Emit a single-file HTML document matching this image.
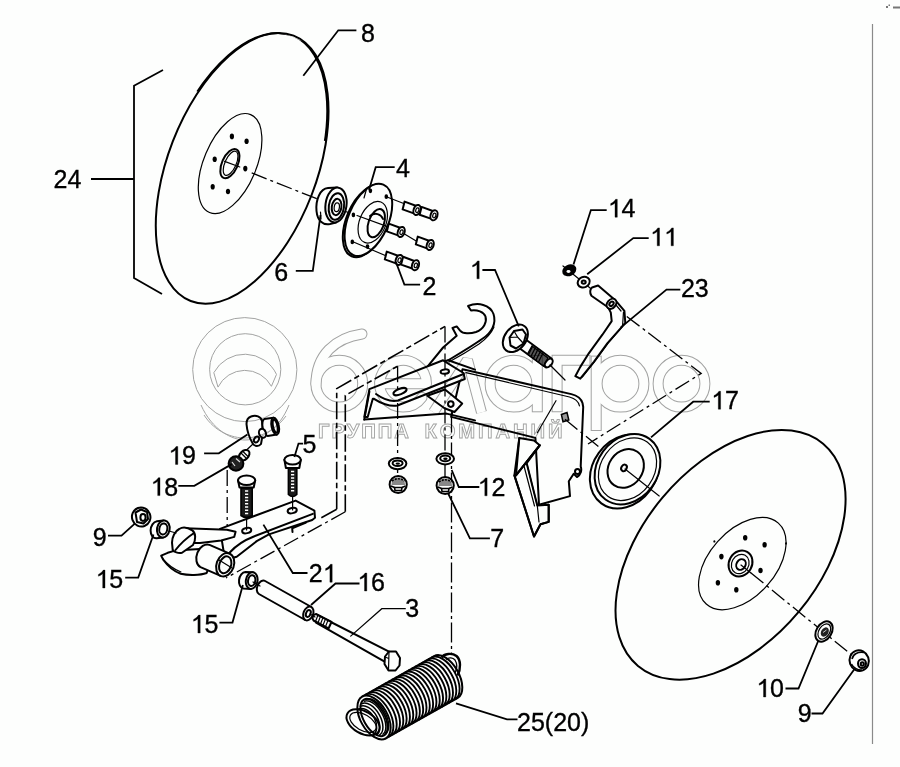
<!DOCTYPE html>
<html><head><meta charset="utf-8"><style>
html,body{margin:0;padding:0;background:#fdfefd;}
svg{display:block;}
text{font-family:"Liberation Sans",sans-serif;}
.k{fill:none;stroke:#000;stroke-width:2;stroke-linejoin:round;stroke-linecap:round}
.kw{fill:#fdfefd;stroke:#000;stroke-width:2;stroke-linejoin:round}
.t{fill:none;stroke:#000;stroke-width:1.2;stroke-linecap:round}
.ld{fill:none;stroke:#000;stroke-width:1.8;stroke-linejoin:miter}
.dd{fill:none;stroke:#000;stroke-width:1.3;stroke-dasharray:16 4 3 4}
.ph{fill:none;stroke:#000;stroke-width:1.6;stroke-dasharray:17.5 3.5 5.5 3.5}
.f{fill:#000}
.wm{fill:none;stroke:#a8a8a8;stroke-width:1}
.lb{font-size:25px;fill:#000;stroke:#000;stroke-width:0.35}
</style></head><body>
<svg width="900" height="767" viewBox="0 0 900 767">
<!-- WATERMARK -->
<g id="wm">
</g>

<!-- DISK 8 -->
<g id="disk8">
  <ellipse class="k" cx="242.15" cy="168.35" rx="142.3" ry="74.4" transform="rotate(111.2 242.15 168.35)" stroke-width="2.4"/>
  <clipPath id="c8"><rect x="100" y="60" width="85" height="230"/></clipPath>
  <ellipse class="k" cx="240.9" cy="168.35" rx="142.3" ry="74.4" transform="rotate(111.2 240.9 168.35)" stroke-width="1.6" clip-path="url(#c8)"/>
  <ellipse class="t" cx="230.1" cy="163.6" rx="53.1" ry="26.3" transform="rotate(112.8 230.1 163.6)" stroke-width="1.4"/>
  <ellipse class="k" cx="229.9" cy="163.65" rx="15.65" ry="7.86" transform="rotate(114 229.9 163.65)" stroke-width="2.4"/>
  <ellipse class="t" cx="230.6" cy="163.3" rx="13" ry="5.6" transform="rotate(114 230.6 163.3)" stroke-width="1"/>
  <g class="f">
    <ellipse cx="231.9" cy="136.4" rx="2.1" ry="2.8"/>
    <ellipse cx="246.6" cy="141.2" rx="2.1" ry="2.8"/>
    <ellipse cx="214.7" cy="159.3" rx="2.1" ry="2.8"/>
    <ellipse cx="245.3" cy="168.6" rx="2.1" ry="2.8"/>
    <ellipse cx="212.7" cy="186.8" rx="2.1" ry="2.8"/>
    <ellipse cx="228" cy="191.5" rx="2.1" ry="2.8"/>
  </g>
  <path class="t" d="M224.6 161.4 L239.8 167"/>
  <path class="dd" d="M251.7 172.9 L320 200"/>
</g>

<!-- BEARING 6 -->
<g id="bearing">
  <path class="kw" d="M328 188 C320 188.5 315.5 200 316.5 211 C317.5 221 323 225.5 330 224 L336 222.5 L337 187.5 Z" stroke-width="2.4"/>
  <ellipse class="kw" cx="336" cy="205" rx="10.5" ry="17.5" transform="rotate(8 336 205)" stroke-width="2.8"/>
  <ellipse class="k" cx="336.4" cy="206.5" rx="7.6" ry="13.4" transform="rotate(8 336.4 206.5)" stroke-width="3"/>
  <ellipse class="k" cx="336.6" cy="207" rx="4.8" ry="8.2" transform="rotate(8 336.6 207)" stroke-width="1.5"/>
  <ellipse class="t" cx="336.8" cy="207.3" rx="2.6" ry="4.4" transform="rotate(8 336.8 207.3)"/>
  <path class="t" d="M320.5 212 L321 219"/>
  <path class="t" d="M345.5 211.5 L357 215.5"/>
</g>
<!-- FLANGE 4 -->
<g id="flange">
  <ellipse class="kw" cx="366.6" cy="221" rx="38.3" ry="20.1" transform="rotate(113 366.6 221)"/>
  <ellipse class="kw" cx="368.4" cy="219.9" rx="38.3" ry="20.1" transform="rotate(113 368.4 219.9)"/>
  <ellipse class="t" cx="372.75" cy="222.2" rx="21.8" ry="13.2" transform="rotate(112 372.75 222.2)"/>
  <ellipse class="k" cx="376.25" cy="223.1" rx="14.7" ry="7.7" transform="rotate(109.5 376.25 223.1)" stroke-width="2.6"/>
  <path class="k" d="M370 216 C375 212 381 214 383 219" stroke-width="1.4"/>
  <path class="t" d="M357 215.5 L387.5 226.6"/>
  <g class="f">
    <ellipse cx="370.4" cy="190.8" rx="1.8" ry="2.4"/>
    <ellipse cx="386.3" cy="196.7" rx="1.8" ry="2.4"/>
    <ellipse cx="353.4" cy="214.9" rx="1.8" ry="2.4"/>
    <ellipse cx="352.3" cy="241.9" rx="1.8" ry="2.4"/>
    <ellipse cx="367.5" cy="246.6" rx="1.8" ry="2.4"/>
  </g>
  <path class="t" d="M366.5 189 L364 198"/>
</g>
<!-- BOLTS 2 -->
<g id="bolts2">
  <path class="t" d="M387 197 L405 204"/>
  <path class="t" d="M388 227 L392 228.5"/>
  <path class="t" d="M402 232.5 L417 241.5"/>
  <path class="t" d="M353.5 242 L386.5 256"/>
  <path class="t" d="M417 211 L423 212"/>
  <path class="t" d="M400 260.5 L405 262"/>
  <g id="bA">
    <path class="kw" d="M404.6 201.6 L416.5 206 L414.5 213.6 L402.6 209.4 Z"/>
    <ellipse class="kw" cx="417" cy="210" rx="3.4" ry="5.2" transform="rotate(18 417 210)"/>
    <ellipse class="t" cx="417.3" cy="210.2" rx="1.5" ry="2.4" transform="rotate(18 417.3 210.2)"/>
  </g>
  <use href="#bA" transform="translate(17 5.3)"/>
  <use href="#bA" transform="translate(-15.8 22)"/>
  <use href="#bA" transform="translate(13.2 35)"/>
  <use href="#bA" transform="translate(-17.8 50)"/>
  <use href="#bA" transform="translate(-1.5 55.2)"/>
</g>

<!-- CENTRAL BRACKET -->
<g id="central">
  <!-- hook plate -->
  <path class="kw" stroke-width="2.6" d="M427.9 366.2 L443.1 347.5 L456.7 335.7 L452.5 328 L456.7 326.4 L460.1 330.6 C463 334 470 334 476 332 C484 329 487 322 485.5 316.5 C484 312 477 309.5 471 310.5 L468 306 C478 302 490 304.5 493.5 314 C496.5 323 492 333 482 339 C475 344 462 352 452 358 L448.2 360.3 Z"/>
  <path class="t" d="M449 362 C460 356 470 350 479 344 C486 339 491 334 494 327"/>
  <!-- side plate -->
  <path class="kw" d="M462.5 369.2 L571.3 394.1 C577 395.5 581 398 582.5 403 L583.2 407 L580.7 466.4 C582 470 581 475 577 477 L573.7 473.8 L568.8 481.3 L570 496.1 L539 504.8 L535.4 437.9 L451.1 416.9 Z"/>
  <path class="t" d="M466 372.6 L569.5 397 C575 398.5 578.5 401 579.5 406"/>
  <path class="t" d="M556 400.7 L537.3 432.7"/>
  <path d="M561.4 414.5 L567 412.5 L568.8 420 L563 421.8 Z" fill="#999" stroke="#000" stroke-width="1.5"/>
  <ellipse class="k" cx="577.5" cy="471.4" rx="2.5" ry="2.5" stroke-width="1.5"/>
  <!-- shin -->
  <path class="kw" d="M519.3 437.9 L534 440.4 L539.7 445.3 L516 475.4 Z"/>
  <path class="kw" d="M514.4 475.4 L516 475.4 L539.7 445.3 L526.7 463.2 L537.3 505.6 L548.7 504.7 L548.7 521.9 L540.5 524.3 L534 536.5 Z"/>
  <path class="k" d="M519.3 437.9 L514.4 475.4 L534 536.5 L540.5 524.3 L548.7 521.9 L548.7 504.7"/>
  <path class="k" d="M516 475.4 L539.7 445.3"/>
  <path class="t" d="M526.7 463.2 L537.3 505.6 L539 522"/>
  <path class="t" d="M524 466 L534.5 506"/>
  <!-- tab under top plate -->
  <path class="kw" d="M427.3 395.8 L445 389.5 L462.2 403.6 L454.5 412 L444.5 408.3 Z" stroke-width="2"/>
  <ellipse class="k" cx="450.8" cy="404.1" rx="2.8" ry="2.8" stroke-width="2.2"/>
  <!-- top plate + left flange -->
  <path class="kw" d="M369.4 389.1 L443.1 360.3 L463.5 373 L464.8 379 L397.4 405.5 C390 407 380 403 373.6 398.7 L372.8 398.7 L367.7 417 L364.3 417 Z"/>
  <path class="k" d="M364.3 419.6 L446.5 413.6 L475 420.4"/>
  <path class="k" d="M369.4 391.6 L364.3 419.6"/>
  <path class="k" d="M463.5 374 L398 400.5 C391 402 383 399 376 394" stroke-width="1.4"/>
  <path class="k" d="M448.2 360.3 L475 369.6"/>
  <ellipse class="k" cx="400" cy="391.6" rx="7" ry="2.8" transform="rotate(-22 400 391.6)" stroke-width="1.8"/>
  <ellipse class="k" cx="444.8" cy="371.6" rx="4.2" ry="2.2" transform="rotate(-5 444.8 371.6)" stroke-width="1.6"/>
  <!-- phantom dashed lines (on top) -->
  <path class="ph" d="M336.7 509.3 L336.7 388.6 L445 326.4"/>
  <path class="ph" d="M345.3 511.8 L345.3 395.4 L397.6 366.2"/>
  <path class="dd" d="M451.5 412.5 L451.5 655" style="stroke-dasharray:20 3.5 3 3.5"/>
  <path class="dd" d="M397.6 366.2 L397.6 389 M397.6 403 L397.6 492"/>
  <path class="dd" d="M445 326.4 L445 494"/>
  <!-- washers / nuts under -->
  <g id="wsh">
    <ellipse class="kw" cx="397.6" cy="463.6" rx="8.8" ry="5.6" stroke-width="3"/>
    <ellipse class="k" cx="397.6" cy="463.2" rx="5" ry="2.8" stroke-width="1.2"/>
    <ellipse class="f" cx="397.8" cy="463.6" rx="2.2" ry="1.2"/>
  </g>
  <use href="#wsh" transform="translate(47.6 -4.8)"/>
  <g id="nut">
    <ellipse class="kw" cx="398.2" cy="484.5" rx="8.6" ry="8.4" stroke-width="3.2"/>
    <path d="M391.5 485 C391.5 479 395 477.5 398.2 477.5 C401.5 477.5 405 479 405 485 Z" fill="#888"/>
    <path d="M392 481 Q398 476.5 404.5 481" fill="none" stroke="#000" stroke-width="1.6" stroke-dasharray="2 1.2"/>
    <path d="M394.5 487.5 L402 487.5 L401.5 490.5 L395 490.5 Z" fill="#fdfefd" stroke="#000" stroke-width="1.6"/>
    <path d="M391 486 L394.5 487.5 M405.5 486 L402 487.5" fill="none" stroke="#000" stroke-width="1.4"/>
  </g>
  <use href="#nut" transform="translate(47 1)"/>
  <!-- bolt 1 -->
  <path class="kw" d="M521 336 L551.5 358.5 L546 367.5 L515 345 Z"/>
  <path d="M532 346 L548 358 L543.5 366 L527.5 354 Z" fill="#555" stroke="#000" stroke-width="1.4"/>
  <path d="M533 345.5 L528.5 354.5 M535.5 347.5 L531 356.3 M538 349.3 L533.5 358.2 M540.5 351.2 L536 360 M543 353 L538.5 362" stroke="#000" stroke-width="1.3"/>
  <ellipse class="kw" cx="548.8" cy="363" rx="3" ry="5" transform="rotate(40 548.8 363)" stroke-width="2"/>
  <ellipse class="kw" cx="515.35" cy="338.3" rx="15.2" ry="10.7" transform="rotate(127.5 515.35 338.3)" stroke-width="2.4"/>
  <path class="kw" d="M509.5 337.5 L514 331 L522.5 329.5 L526 334.5 L523.5 343.5 L516 348.5 L510.5 345.5 Z" stroke-width="1.8"/>
  <path class="t" d="M514 331 L517.5 337 L509.5 337.5 M517.5 337 L523.5 343.5"/>
  <path class="t" d="M550 365 L565 380"/>
</g>

<!-- ARM 23 + WASHERS -->
<g id="arm23">
  <path class="t" d="M563 266 L595 292"/>
  <ellipse class="f" cx="569.3" cy="270.3" rx="7.4" ry="5.6" transform="rotate(-25 569.3 270.3)"/>
  <ellipse fill="#fdfefd" cx="568.5" cy="271.5" rx="2" ry="1.4"/>
  <ellipse class="kw" cx="583.7" cy="282.1" rx="6.2" ry="5.2" transform="rotate(-25 583.7 282.1)" stroke-width="2.6"/>
  <ellipse class="k" cx="583.7" cy="282.1" rx="2" ry="1.6" stroke-width="1.3"/>
  <path class="kw" d="M608.3 307.5 L610.8 312.6 L611.7 321.1 L602.4 334.7 L588.8 353.3 L580.3 366.9 L575.3 376.2 L580.3 378.7 L593.9 361.8 L607.5 343.1 L621 327.9 L625.3 322.8 L624.4 310.9 L615.9 300.8 Z"/>
  <path class="t" d="M582.5 377 L595.5 360.5 L609 342 L622.5 326.5 L623.5 312"/>
  <path class="kw" d="M598.1 285.5 L615.9 300.8 L608.3 307.5 L591.4 295.7 C589.5 293 590 289 592 287.5 Z"/>
  <ellipse class="kw" cx="611.5" cy="303.8" rx="4.2" ry="5.6" transform="rotate(40 611.5 303.8)"/>
  <ellipse class="k" cx="611.5" cy="303.8" rx="1.8" ry="2.5" transform="rotate(40 611.5 303.8)" stroke-width="1.2"/>
  <path class="t" d="M616 305 L621 311"/>
</g>
<!-- dash-dot lines right side -->
<path class="dd" d="M626.8 316.4 L701.2 373.4 L588 444"/>
<path class="dd" d="M565 419.3 L601.7 449.1"/>
<!-- PULLEY 17 -->
<g id="pulley">
  <ellipse class="kw" cx="624.5" cy="471.5" rx="39.4" ry="31.8" transform="rotate(126 624.5 471.5)"/>
  <ellipse class="kw" cx="627.5" cy="469.2" rx="37.5" ry="30.2" transform="rotate(126 627.5 469.2)"/>
  <ellipse class="t" cx="627.5" cy="469.2" rx="33.5" ry="26.5" transform="rotate(126 627.5 469.2)"/>
  <ellipse class="k" cx="625.7" cy="468.45" rx="20.4" ry="17" transform="rotate(125 625.7 468.45)" stroke-width="2.6"/>
  <ellipse class="k" cx="624" cy="467.9" rx="2.6" ry="3.4" transform="rotate(30 624 467.9)" stroke-width="1.6"/>
  <path class="t" d="M625 469 L659.2 496"/>
</g>

<!-- SPRING 25 -->
<g id="spring">
  <g transform="translate(374 717.5) rotate(-29.4)">
    <path class="kw" d="M0 -24 L82.6 -24 A13 24 0 0 1 82.6 24 L0 24 Z" stroke-width="2.4"/>
    <path d="M3.5 -24 A13 24 0 0 1 3.5 24 M7.3 -24 A13 24 0 0 1 7.3 24 M11.1 -24 A13 24 0 0 1 11.1 24 M14.9 -24 A13 24 0 0 1 14.9 24 M18.7 -24 A13 24 0 0 1 18.7 24 M22.5 -24 A13 24 0 0 1 22.5 24 M26.3 -24 A13 24 0 0 1 26.3 24 M30.1 -24 A13 24 0 0 1 30.1 24 M33.9 -24 A13 24 0 0 1 33.9 24 M37.7 -24 A13 24 0 0 1 37.7 24 M41.5 -24 A13 24 0 0 1 41.5 24 M45.3 -24 A13 24 0 0 1 45.3 24 M49.1 -24 A13 24 0 0 1 49.1 24 M52.9 -24 A13 24 0 0 1 52.9 24 M56.7 -24 A13 24 0 0 1 56.7 24 M60.5 -24 A13 24 0 0 1 60.5 24 M64.3 -24 A13 24 0 0 1 64.3 24 M68.1 -24 A13 24 0 0 1 68.1 24 M71.9 -24 A13 24 0 0 1 71.9 24 M75.7 -24 A13 24 0 0 1 75.7 24 M79.5 -24 A13 24 0 0 1 79.5 24" fill="none" stroke="#000" stroke-width="1.9"/>
    <ellipse class="kw" cx="0" cy="0" rx="13.5" ry="24" stroke-width="2.6"/>
    <path d="M-10.0 -15.0 A10 15.0 0 0 1 -10.0 15.0 M-7.0 -16.5 A10 16.5 0 0 1 -7.0 16.5 M-4.0 -18.0 A10 18.0 0 0 1 -4.0 18.0 M-1.0 -19.0 A10 19.0 0 0 1 -1.0 19.0 M2.0 -19.5 A10 19.5 0 0 1 2.0 19.5" fill="none" stroke="#000" stroke-width="1.5"/>
    <ellipse class="k" cx="0" cy="0" rx="10.5" ry="20.5" stroke-width="1.6"/>
  </g>
  <path d="M441.5 657.5 C444 653.5 452 652.5 456.5 656 C461 660 461 669 457.5 675.5" fill="none" stroke="#000" stroke-width="2.4"/>
  <path d="M446 659.5 C449 657 453 657.5 455 660 C457.5 664 457 669 455 673" fill="none" stroke="#000" stroke-width="1.3"/>
  <ellipse class="k" cx="363" cy="722.4" rx="18" ry="11" transform="rotate(30 363 722.4)" stroke-width="2.4"/>
  <ellipse class="t" cx="363" cy="722.4" rx="14.5" ry="8" transform="rotate(30 363 722.4)"/>
</g>
<!-- BOLT 3 + TUBE 16 -->
<g id="bolt3">
  <path class="kw" d="M318 615.5 L389.5 651.8 L386.8 662.8 L316 622.6 Z" stroke-width="1.6"/>
  <path class="kw" d="M316 614 L331.5 622 L328.5 628.5 L313.5 620.5 C311.5 618 313 614.5 316 614 Z"/>
  <path class="t" d="M318 615 L315.5 621.5 M320.5 616.3 L318 622.8 M323 617.6 L320.5 624 M325.5 618.9 L323 625.3 M328 620.2 L325.5 626.6"/>
  <path class="kw" d="M385 656.5 L389 651.5 L396 651.5 L400 658 L399.5 665.5 L395.5 670.5 L388.5 670.5 L384.5 664 Z"/>
  <path class="t" d="M389 651.8 L388.5 670 M385 657 L388.8 658.5"/>
  <!-- tube 16 -->
<path class="kw" stroke-width="2.2" d="M258.9 594.0 L305.2 620.0 L311.4 607.0 L265.1 581.0 A4.8 7.2 22 0 0 258.9 594.0 Z"/>
<ellipse class="kw" stroke-width="2.2" cx="308.3" cy="613.5" rx="4.8" ry="7.2" transform="rotate(22 308.3 613.5)"/>
<ellipse class="k" stroke-width="2.4" cx="308.3" cy="613.5" rx="2.2" ry="3.6" transform="rotate(22 308.3 613.5)"/>
  <path class="t" d="M310 614 L315 617"/>
</g>
<!-- LINKAGE 21 -->
<g id="linkage">
  <!-- dash-dot vertical for 18/19 -->
  <path class="dd" d="M227.2 470 L227.2 548"/>
  <!-- phantom continuation -->
  <path class="ph" d="M336.7 509.3 L318.4 519.3"/>
  <path class="dd" d="M345.3 511.8 L226 578"/>
  <!-- arm -->
  <path class="kw" d="M220 528.9 L295.6 500.6 L314.4 510.6 L315 517.8 L312.2 520 L268.9 534.4 L256.7 541.1 L236.7 556.7 L225 560 Z"/>
  <path class="k" d="M312.8 513.9 L253.3 536.7 C246 539.5 238 543.5 230 552.2"/>
  <path class="k" d="M292.2 528.3 L306 522.5 M292.2 528.3 L292.5 532"/>
  <ellipse class="k" cx="246.7" cy="530.6" rx="4.6" ry="2.6" transform="rotate(-12 246.7 530.6)" stroke-width="1.6"/>
  <ellipse class="k" cx="292.2" cy="510.6" rx="4.6" ry="2.6" transform="rotate(-12 292.2 510.6)" stroke-width="1.6"/>
  <!-- ear -->
  <path class="kw" d="M185 528.2 L226.9 529.7 L235.6 531.8 L234.2 536.9 L221.2 540.5 L200 543 L190 543 Z"/>
  <path class="kw" d="M161.2 555.7 L167.7 552.8 L174.9 550.6 L200 549 L212 558 L206.7 573 C200 575.5 188 575.5 180.7 573.8 C173 571 167 565 163.4 560 Z"/>
  <path class="t" d="M162.5 558.5 C167 564 173 569 181 572"/>
  <path class="kw" d="M172 542.7 C172 537 175 531 179.2 529 C182 527.2 187 527 192.3 530.4 C196 533 196 540 193 545 L182 552.8 C178 553.5 174 552 172.7 549.9 Z"/>
  <path class="k" d="M175.5 550 C181 543 188 537 194 533" stroke-width="1.6"/>
  <!-- pivot tube -->
<path class="kw" stroke-width="2.2" d="M200.5 567.1 L220.7 575.9 L229.7 553.7 L209.5 544.9 A8.7 12 20 0 0 200.5 567.1 Z"/>
<ellipse class="kw" stroke-width="2.2" cx="225.2" cy="564.8" rx="8.7" ry="12" transform="rotate(20 225.2 564.8)"/>
<ellipse class="k" stroke-width="2.0" cx="225.2" cy="564.8" rx="5.8" ry="8.7" transform="rotate(20 225.2 564.8)"/>
  <path class="t" d="M219 560 L232 568"/>
  <!-- nut 9 left -->
  <ellipse class="kw" cx="141.2" cy="517" rx="9.2" ry="9.6" transform="rotate(-20 141.2 517)" stroke-width="3"/>
  <path class="k" d="M135.5 512.5 L141 509.5 L147 512 L148 519 L143.5 523.5 L137 522 Z" stroke-width="1.5"/>
  <ellipse class="k" cx="143" cy="517.5" rx="2.6" ry="3.4" stroke-width="1.8"/>
  <!-- bushing 15 left -->
<path class="kw" stroke-width="2.4" d="M156.7 538.3 L163.2 537.5 L163.4 520.5 L156.9 521.3 A6.3 8.6 10 0 0 156.7 538.3 Z"/>
<ellipse class="kw" stroke-width="2.4" cx="163.3" cy="529.0" rx="6.3" ry="8.6" transform="rotate(10 163.3 529.0)"/>
<ellipse class="k" stroke-width="2.6" cx="163.3" cy="529.0" rx="4" ry="5.6" transform="rotate(10 163.3 529.0)"/>
  <path class="t" d="M169 531 L176 533"/>
  <!-- bushing 15 right -->
<path class="kw" stroke-width="2.4" d="M243.4 588.5 L250.7 588.9 L252.7 572.3 L245.4 571.9 A5.8 8.4 10 0 0 243.4 588.5 Z"/>
<ellipse class="kw" stroke-width="2.4" cx="251.7" cy="580.6" rx="5.8" ry="8.4" transform="rotate(10 251.7 580.6)"/>
<ellipse class="k" stroke-width="2.6" cx="251.7" cy="580.6" rx="3.6" ry="5.4" transform="rotate(10 251.7 580.6)"/>
  <path class="t" d="M253 582 L260 586"/>
  <!-- bolts 5 -->
  <path d="M288.4 468.5 L296.8 468.5 L296.8 494.5 Q292.6 498.5 288.4 494.5 Z" fill="#1a1a1a" stroke="#000" stroke-width="1.6"/>
  <path d="M291.0 471.5 h3.2 M291.0 474.7 h3.2 M291.0 477.9 h3.2 M291.0 481.1 h3.2 M291.0 484.3 h3.2 M291.0 487.5 h3.2 M291.0 490.7 h3.2" stroke="#fff" stroke-width="1.5" fill="none"/>
  <path class="kw" d="M284.4 459.8 L285.9 468.0 L299.3 468.0 L300.8 459.8 Z" stroke-width="2"/>
  <ellipse class="kw" cx="292.6" cy="459.8" rx="8.2" ry="4.8" stroke-width="2.3"/>
  <path d="M241.0 488 L252.2 488 L252.2 515.5 Q246.6 519.5 241.0 515.5 Z" fill="#1a1a1a" stroke="#000" stroke-width="1.6"/>
  <path d="M245.0 491.0 h3.2 M245.0 494.2 h3.2 M245.0 497.4 h3.2 M245.0 500.6 h3.2 M245.0 503.8 h3.2 M245.0 507.0 h3.2 M245.0 510.2 h3.2 M245.0 513.4 h3.2" stroke="#fff" stroke-width="1.5" fill="none"/>
  <path class="kw" d="M238.0 480.3 L239.5 487.5 L253.7 487.5 L255.2 480.3 Z" stroke-width="2"/>
  <ellipse class="kw" cx="246.6" cy="480.3" rx="8.6" ry="4.8" stroke-width="2.3"/>
  <path class="t" d="M292.6 497 L292.6 510"/>
  <path class="t" d="M246.6 518 L246.6 530"/>
  <!-- grease nipple 18 -->
  <path class="t" d="M238 458 L253 444"/>
  <ellipse class="kw" cx="244.2" cy="455.3" rx="4.2" ry="6.2" transform="rotate(45 244.2 455.3)" stroke-width="2.4"/>
  <path class="t" d="M241.5 453.5 L246 458 M243 451.5 L247.5 456"/>
  <ellipse cx="236" cy="463.5" rx="7.4" ry="7.2" fill="#222" stroke="#000" stroke-width="2"/>
  <path d="M236 458.5 L240 462 M232 462 L235 466" stroke="#ddd" stroke-width="1.2" fill="none"/>
  <!-- clip 19 -->
  <path class="k" d="M251 416.5 C256 414.5 261 416.5 262 421 C263 427 262.5 438 261 444 C259 446.5 255 446.5 253 444 C250 439 247 431 246.5 424 C246.5 420 248 417.5 251 416.5 Z" stroke-width="2.8"/>
<path class="kw" stroke-width="2.6" d="M267.7 435.9 L276.9 434.6 L273.5 417.8 L264.3 419.1 A3.6 8.6 -12 0 0 267.7 435.9 Z"/>
<ellipse class="kw" stroke-width="2.6" cx="275.2" cy="426.2" rx="3.6" ry="8.6" transform="rotate(-12 275.2 426.2)"/>
<ellipse class="k" stroke-width="1.3" cx="275.2" cy="426.2" rx="2.2" ry="6.6" transform="rotate(-12 275.2 426.2)"/>
  <ellipse class="kw" cx="262.5" cy="433.3" rx="3.4" ry="4.6" transform="rotate(-20 262.5 433.3)" stroke-width="2.8"/>
  <ellipse class="kw" cx="256.5" cy="439.5" rx="2.2" ry="3.2" transform="rotate(32 256.5 439.5)" stroke-width="2.2"/>
</g>

<!-- BRACKET 24 -->
<path class="ld" d="M163 70 L134 85.7 L134 278 L162 294"/>
<path class="ld" d="M91 179 L134 179"/>

<!-- LEADERS -->
<g class="ld">
  <path d="M303.3 75.8 L338.3 30.3 L356.4 30.3"/>
  <path d="M369 190 L375.7 167.2 L394.7 167.2"/>
  <path d="M295.8 270.9 L312.8 270.9 L320.5 215"/>
  <path d="M395.8 261.7 L404.4 284.6 L420.1 284.6"/>
  <path d="M573.5 264.4 L590.9 210.1 L606.7 210.1"/>
  <path d="M587.2 274.3 L633.3 238.1 L648.7 238.1"/>
  <path d="M518.8 326.3 L495 270 L482.4 270"/>
  <path d="M620.6 327.6 L666.5 289.6 L680.3 289.6"/>
  <path d="M651 437.4 L693.2 401.7 L709.7 401.7"/>
  <path d="M247.4 434.4 L218.8 453.3 L204.1 453.3"/>
  <path d="M231.8 464.1 L194.3 485.8 L178.3 485.8"/>
  <path d="M294.4 457 L298.5 443.6 L303 443.6"/>
  <path d="M451.7 470 L458.8 487 L479.3 487"/>
  <path d="M448.2 493.5 L469.9 538.3 L489.9 538.3"/>
  <path d="M134.8 523.6 L121.5 535.6 L108 535.6"/>
  <path d="M153.5 534.5 L138.2 577.6 L125.2 577.6"/>
  <path d="M242.9 585 L232.5 622.6 L219.4 622.6"/>
  <path d="M263.4 524.6 L292.8 573 L307.5 573"/>
  <path d="M311 605 L335.5 583.5 L359.5 583.5"/>
  <path d="M456 703.4 L507 719.4 L517.5 719.4"/>
  <path d="M818.4 640.5 L798.5 688.5 L785.5 688.5"/>
  <path d="M854.7 668.8 L822.5 713.5 L811.5 713.5"/>
</g>
<path class="t" d="M350.7 636.1 L381.8 608.7 L405.3 608.7"/>

<!-- LABELS -->
<defs><path id="one" d="M9.6 0 L7.3 0 L7.3 -14.3 C6.2 -13.3 4.6 -12.3 3 -11.8 L3 -13.6 C5.1 -14.6 6.9 -16.2 7.9 -17.9 L9.6 -17.9 Z"/></defs>
<g class="lb">
  <text x="360.9" y="41.6">8</text>
  <text x="53.5" y="187.9">24</text>
  <text x="396.1" y="177">4</text>
  <text x="274.3" y="280.6">6</text>
  <text x="422.4" y="294.7">2</text>
  <text x="607.7" y="217.2"> 4</text>
  <text x="680.9" y="296.5">23</text>
  <text x="711" y="409.2"> 7</text>
  <text x="168.2" y="464.4"> 9</text>
  <text x="302.6" y="452.8">5</text>
  <text x="150.4" y="495.6"> 8</text>
  <text x="477.5" y="495.8"> 2</text>
  <text x="490.3" y="546.8">7</text>
  <text x="92.7" y="545.6">9</text>
  <text x="308.7" y="582.2">2 </text>
  <text x="357.2" y="591"> 6</text>
  <text x="95.4" y="588"> 5</text>
  <text x="190.6" y="633"> 5</text>
  <text x="405.2" y="616.7">3</text>
  <text x="756.2" y="697"> 0</text>
  <text x="797.8" y="721.8">9</text>
  <text x="517" y="730.5">25(20)</text>
  <use href="#one" x="607.7" y="217.2"/>
  <use href="#one" x="649.9" y="245.8"/>
  <use href="#one" x="663.8" y="245.8"/>
  <use href="#one" x="469.6" y="278.8"/>
  <use href="#one" x="711.0" y="409.2"/>
  <use href="#one" x="168.2" y="464.4"/>
  <use href="#one" x="150.4" y="495.6"/>
  <use href="#one" x="477.5" y="495.8"/>
  <use href="#one" x="322.6" y="582.2"/>
  <use href="#one" x="357.2" y="591"/>
  <use href="#one" x="95.4" y="588"/>
  <use href="#one" x="190.6" y="633"/>
  <use href="#one" x="756.2" y="697"/>
</g>

<!-- RIGHT DISK -->
<g id="diskR">
  <ellipse class="k" cx="730.55" cy="554.8" rx="144.6" ry="88.9" transform="rotate(129.8 730.55 554.8)" stroke-width="2.5"/>
  <ellipse class="t" cx="742.3" cy="563.6" rx="54.2" ry="33.1" transform="rotate(131.7 742.3 563.6)" stroke-width="1.6"/>
  <ellipse class="k" cx="740.5" cy="563.5" rx="11.5" ry="13.3" transform="rotate(30 740.5 563.5)" stroke-width="2.2"/>
  <ellipse class="t" cx="740.2" cy="564" rx="8.5" ry="10" transform="rotate(30 740.2 564)"/>
  <ellipse class="k" cx="741" cy="564.5" rx="4.5" ry="5.5" transform="rotate(30 741 564.5)" stroke-width="1.6"/>
  <g class="f">
    <ellipse cx="745.2" cy="537.7" rx="2.2" ry="2.8"/>
    <ellipse cx="764.6" cy="544.7" rx="2.2" ry="2.8"/>
    <ellipse cx="721.4" cy="556.6" rx="2.2" ry="2.8"/>
    <ellipse cx="760.5" cy="570.5" rx="2.2" ry="2.8"/>
    <ellipse cx="717.9" cy="582.7" rx="2.2" ry="2.8"/>
    <ellipse cx="736.3" cy="589.8" rx="2.2" ry="2.8"/>
    <ellipse cx="714.4" cy="541.4" rx="1" ry="1.2"/>
    <ellipse cx="786" cy="543.4" rx="1" ry="1.2"/>
  </g>
  <path class="t" d="M741 565 L751 573"/>
  <path class="dd" d="M751 573 L858.8 660.7"/>
  <!-- washer 10 -->
  <ellipse class="kw" cx="824" cy="631.5" rx="11" ry="7.6" transform="rotate(-58 824 631.5)" stroke-width="2.8"/>
  <ellipse class="t" cx="824.3" cy="631.5" rx="8.4" ry="5.4" transform="rotate(-58 824.3 631.5)"/>
  <ellipse cx="824.8" cy="632" rx="5" ry="3.6" transform="rotate(-58 824.8 632)" fill="#222"/>
  <path d="M823 632.5 L826.5 630" stroke="#ccc" stroke-width="1"/>
  <!-- nut 9 -->
  <ellipse class="kw" cx="859.2" cy="660.6" rx="9.6" ry="10.4" transform="rotate(-20 859.2 660.6)" stroke-width="3"/>
  <path d="M852 659 C853 654 858 651.5 864 652.5" fill="none" stroke="#000" stroke-width="1.6"/>
  <path d="M851.5 664 C853.5 668 858 670.5 862 670" fill="none" stroke="#000" stroke-width="1.4"/>
  <ellipse class="k" cx="862" cy="663.6" rx="4" ry="4.4" stroke-width="1.8"/>
  <ellipse class="k" cx="862.3" cy="664" rx="1.6" ry="1.8" stroke-width="1.2"/>
</g>

<!-- WATERMARK (multiply) -->
<g style="mix-blend-mode:multiply">
  <g fill="none" stroke="#a4a4a4" stroke-width="1">
    <ellipse cx="244.8" cy="369.6" rx="52.1" ry="52"/>
    <ellipse cx="245.2" cy="369.3" rx="35.6" ry="35.6"/>
    <path d="M213.8 372.7 A35.1 35.1 0 0 1 276.5 374.4 L271.4 386.3 A30 30 0 0 0 218 387.1 Z"/>
    <path d="M201 405 C212 430 232 440 245 440 C262 440 280 428 289 405"/>
    <path d="M204 415 C215 432 232 438 245 438 C260 438 276 430 286 416"/>
  </g>
  <g fill="none" stroke-linejoin="round">
    <g id="wmg" stroke="#a4a4a4" stroke-width="11">
      <path d="M316 384 C316 355 335 338 362 334" stroke-linecap="round"/>
      <ellipse cx="339.3" cy="383.7" rx="23.4" ry="23.4"/>
      <path d="M380.5 383.7 L426.5 383.7 A23.4 23.4 0 1 0 422 397.5" stroke-linecap="round"/>
      <path d="M433.5 412.3 L467.5 360 L481.5 412.3" stroke-linejoin="bevel"/>
      <ellipse cx="513.5" cy="383.7" rx="23.4" ry="23.4"/>
      <path d="M537.3 355 L537.3 412.3"/>
      <path d="M557.1 412.3 L557.1 360.3 L590.5 360.3" stroke-linejoin="miter"/>
      <path d="M596.2 355.6 L596.2 431"/>
      <ellipse cx="620.5" cy="383.7" rx="23.4" ry="23.4"/>
      <ellipse cx="681.5" cy="383.7" rx="23.4" ry="23.4"/>
    </g>
    <g stroke="#fff" stroke-width="9">
      <path d="M316 384 C316 355 335 338 362 334" stroke-linecap="round"/>
      <ellipse cx="339.3" cy="383.7" rx="23.4" ry="23.4"/>
      <path d="M380.5 383.7 L426.5 383.7 A23.4 23.4 0 1 0 422 397.5" stroke-linecap="round"/>
      <path d="M433.5 412.3 L467.5 360 L481.5 412.3" stroke-linejoin="bevel"/>
      <ellipse cx="513.5" cy="383.7" rx="23.4" ry="23.4"/>
      <path d="M537.3 356 L537.3 411.3"/>
      <path d="M557.1 411.3 L557.1 360.3 L589.5 360.3" stroke-linejoin="miter"/>
      <path d="M596.2 356.6 L596.2 430"/>
      <ellipse cx="620.5" cy="383.7" rx="23.4" ry="23.4"/>
      <ellipse cx="681.5" cy="383.7" rx="23.4" ry="23.4"/>
    </g>
  </g>
  <text x="318" y="437.9" font-family="Liberation Sans" font-weight="bold" font-size="20.3" fill="#fff" stroke="#a4a4a4" stroke-width="0.9" textLength="91" lengthAdjust="spacing">ГРУППА</text>
  <text x="424.5" y="437.9" font-family="Liberation Sans" font-weight="bold" font-size="20.3" fill="#fff" stroke="#a4a4a4" stroke-width="0.9" textLength="138" lengthAdjust="spacing">КОМПАНИЙ</text>
</g>

<!-- tiny artifact -->
<g fill="#777"><rect x="886" y="6" width="2" height="2"/><rect x="888.5" y="4.5" width="1.5" height="1.5"/><rect x="893" y="6.5" width="7" height="2"/></g>
<!-- right frame line -->
<path d="M872.5 24 L872.5 744" stroke="#8a8a8a" stroke-width="1.2"/>
</svg>
</body></html>
